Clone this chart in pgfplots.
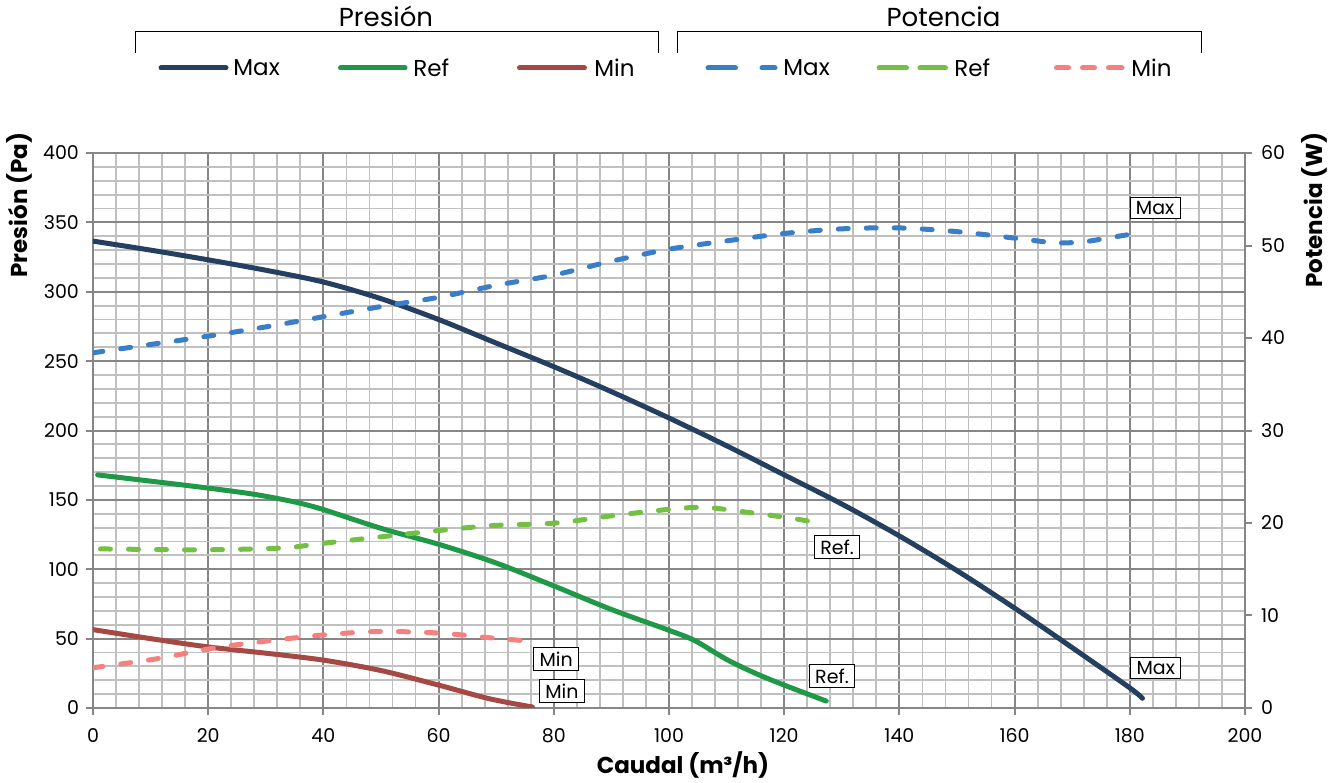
\documentclass[border=0pt]{standalone}
\usepackage{pgfplots}
\pgfplotsset{compat=1.18}
\usepackage{fontspec}
\setmainfont{Poppins}
\definecolor{cMaxP}{RGB}{36,63,96}
\definecolor{cRefP}{RGB}{31,152,72}
\definecolor{cMinP}{RGB}{166,72,68}
\definecolor{cMaxW}{RGB}{58,126,200}
\definecolor{cRefW}{RGB}{116,192,68}
\definecolor{cMinW}{RGB}{244,128,128}
\definecolor{gridmajor}{RGB}{134,134,134}
\definecolor{gridminor}{RGB}{192,192,192}
\pgfplotsset{
  common/.style={
    at={(46.5pt,37pt)}, anchor=south west, scale only axis,
    width=576pt, height=277.5pt,
    xmin=0, xmax=200,
    tick align=outside, major tick length=3.5pt,
    tick style={draw=gridmajor, line width=1pt},
    axis line style={draw=gridmajor, line width=1pt},
    ticklabel style={font=\fontsize{9.5}{10}\selectfont},
    /pgf/number format/assume math mode=true,
  },
  pres/.style={smooth, tension=0.5, line width=2.5pt, line cap=round, line join=round},
  powr/.style={smooth, tension=0.5, line width=2.5pt, line cap=round, line join=round, dash pattern=on 5pt off 9pt},
}
\begin{document}
\begin{tikzpicture}[x=0.5pt,y=0.5pt]
\useasboundingbox (0,0) rectangle (1339,782);
\begin{axis}[common,
  ymin=0, ymax=400,
  xtick={0,20,...,200}, ytick={0,50,...,400},
  minor x tick num=4, minor y tick num=4,
  grid=both,
  major grid style={draw=gridmajor, line width=1pt},
  minor grid style={draw=gridminor, line width=0.9pt},
  minor tick length=0pt,
  tick pos=left,
  xticklabel style={yshift=-3pt},
]
\addplot[pres, color=cMaxP] coordinates {
(0,336.5) (10,330) (20,323) (30,315.5) (40,307) (50,295) (60,280) (70,263) (80,246) (90,228) (100,209) (110,189) (120,168) (130,147) (140,124) (150,99) (160,72) (170,43.5) (180,14.5) (182.2,7)};
\addplot[pres, color=cRefP] coordinates {
(0.8,168) (10,163.5) (20,158.5) (28,154) (35,148.5) (40,143) (50,129.5) (60,118) (70,104.5) (80,88) (90,71) (100,56) (104.5,48.5) (110,35) (115,25) (120,16.5) (127.3,5)};
\addplot[pres, color=cMinP] coordinates {
(0,56.5) (10,50) (20,44) (30,39.5) (40,34.5) (50,27) (60,16.5) (68.8,6.7) (76.3,0.7)};
\end{axis}
\begin{axis}[common,
  ymin=0, ymax=60, ytick={0,10,...,60},
  axis y line*=right, axis x line=none,
  yticklabel style={xshift=1pt},
]
\addplot[powr, color=cMaxW] coordinates {
(0,38.4) (10,39.3) (20,40.2) (30,41.2) (40,42.3) (50,43.4) (60,44.4) (70,45.7) (80,46.8) (90,48.3) (100,49.6) (110,50.5) (120,51.3) (130,51.8) (140,51.9) (150,51.5) (160,50.8) (167,50.3) (172,50.4) (177,50.9) (182,51.4)};
\addplot[powr, color=cRefW] coordinates {
(1.3,17.2) (18.4,17.1) (28.3,17.2) (34.1,17.35) (39.9,17.8) (48.5,18.4) (57.2,19.0) (68.8,19.7) (80.3,20.0) (90.3,20.8) (100.4,21.5) (106.1,21.7) (111.8,21.3) (120.4,20.6) (127,19.9)};
\addplot[powr, color=cMinW] coordinates {
(0,4.35) (10.9,5.3) (20.2,6.4) (28.3,7.1) (40,7.9) (49.7,8.27) (60.1,8.1) (68.8,7.6) (76.3,7.2)};
\tikzset{lbl/.style={draw=black, fill=white, line width=0.5pt, inner xsep=3pt, inner ysep=2pt, font=\fontsize{9.5}{10}\selectfont}}
\node[lbl] at (axis cs:184.4,54.06) {Max};
\node[lbl] at (axis cs:129.2,17.4) {Ref.};
\node[lbl] at (axis cs:80.4,5.3) {Min};
\node[lbl] at (axis cs:81.4,1.85) {Min};
\node[lbl] at (axis cs:128.3,3.45) {Ref.};
\node[lbl] at (axis cs:184.5,4.32) {Max};
\end{axis}
% axis titles
\node[rotate=90, anchor=base, font=\bfseries\fontsize{11.5}{12}\selectfont] at (27,577) {Presión (Pa)};
\node[rotate=90, anchor=base, font=\bfseries\fontsize{11.5}{12}\selectfont] at (1322,572) {Potencia (W)};
\node[anchor=base, font=\bfseries\fontsize{11.5}{12}\selectfont] at (683,9) {Caudal (m³/h)};
% legend
\draw[black, line width=0.5pt] (135,729) -- (135,750) -- (658,750) -- (658,729);
\draw[black, line width=0.5pt] (677,729) -- (677,750) -- (1201,750) -- (1201,729);
\node[anchor=base, font=\fontsize{13}{14}\selectfont] at (386,755) {Presión};
\node[anchor=base, font=\fontsize{13}{14}\selectfont] at (943.5,755) {Potencia};
\tikzset{lg/.style={line width=2.5pt, line cap=round}, lt/.style={anchor=west, inner sep=0pt, font=\fontsize{11.5}{12}\selectfont}}
\draw[lg, cMaxP] (161,714) -- (226,714);
\draw[lg, cRefP] (340.5,714) -- (405,714);
\draw[lg, cMinP] (519.5,714) -- (584.5,714);
\draw[lg, cMaxW] (708,714) -- (735.5,714) (762,714) -- (775,714);
\draw[lg, cRefW] (879,714) -- (906.5,714) (920,714) -- (945.5,714);
\draw[lg, cMinW] (1056.5,714) -- (1068.5,714) (1082.5,714) -- (1094.5,714) (1108.5,714) -- (1122,714);
\node[lt] at (233,714) {Max};
\node[lt] at (413,714) {Ref};
\node[lt] at (594,714) {Min};
\node[lt] at (783,714) {Max};
\node[lt] at (954,714) {Ref};
\node[lt] at (1131,714) {Min};
\end{tikzpicture}
\end{document}
